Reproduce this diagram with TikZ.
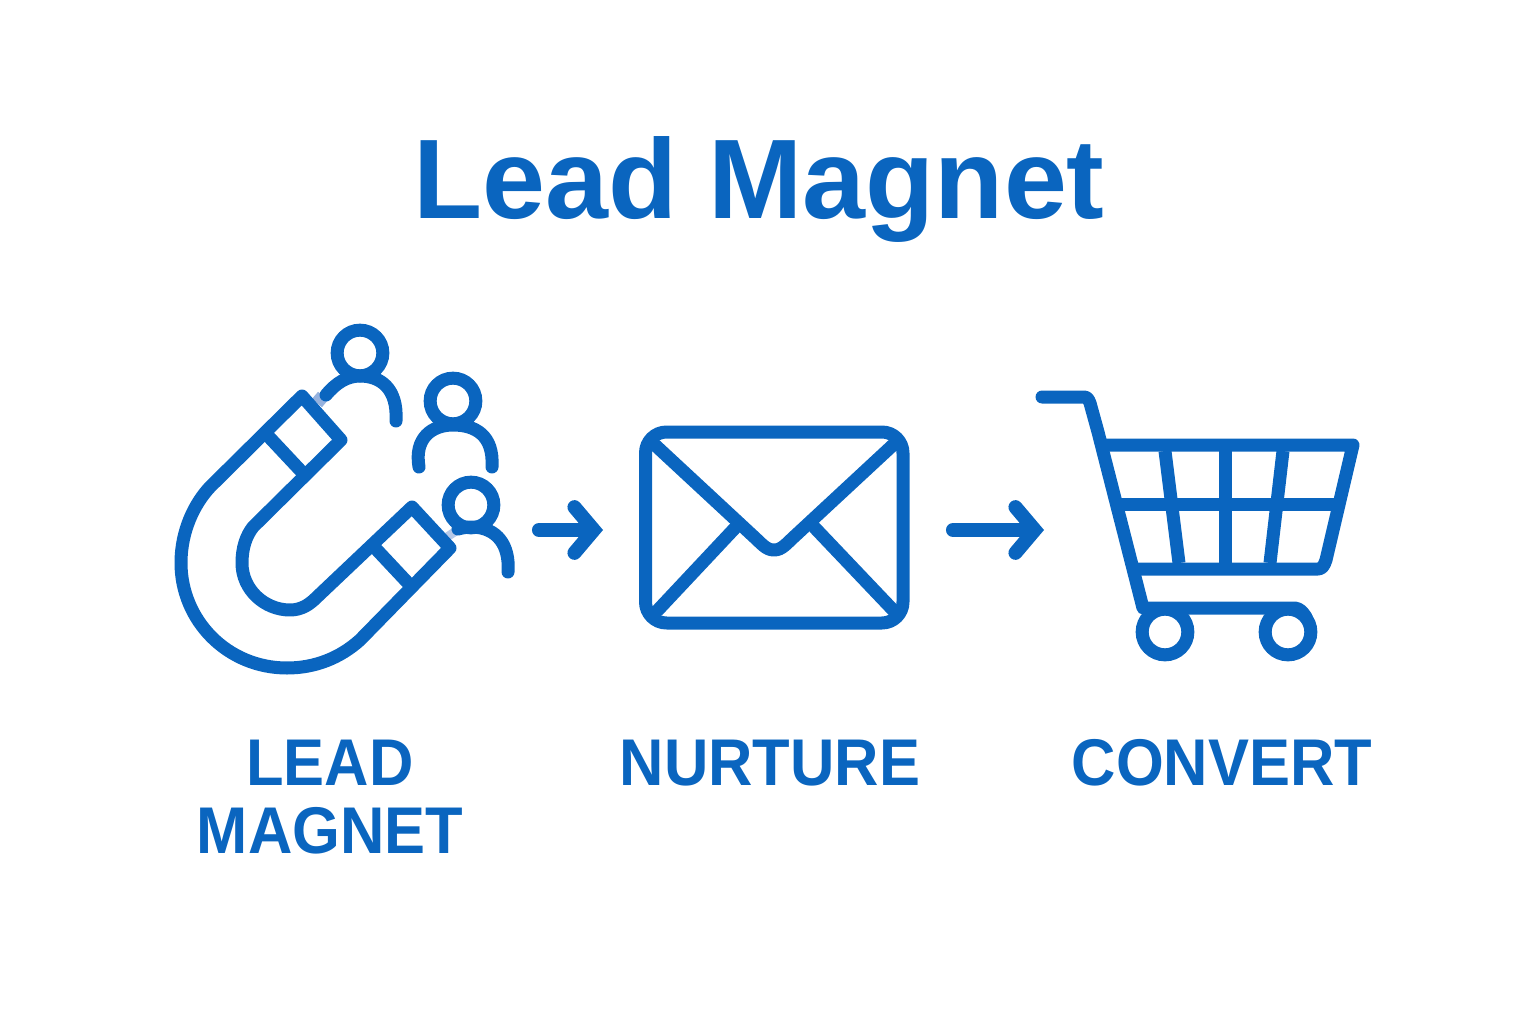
\documentclass[tikz,border=0pt]{standalone}
\usepackage{fontspec}
\setmainfont{Liberation Sans}
\newfontfamily\capsfont[FakeStretch=0.93]{Liberation Sans}
\usetikzlibrary{arrows.meta}
\definecolor{leadblue}{RGB}{10,101,191}
\definecolor{fadeblue}{RGB}{150,178,222}

\begin{document}
\begin{tikzpicture}[x=0.02cm,y=-0.02cm]

\tikzset{icon/.style = {draw=leadblue,line width=7.4pt,line join=round,line cap=round}}
\tikzset{edge/.style = {draw=leadblue,line width=8pt,line cap=round,-{Straight Barb[length=11pt,width=26pt,line cap=round]}}}
\tikzset{head/.style = {shape=circle,draw=leadblue,line width=7.4pt,minimum size=26pt,inner sep=0pt}}
\tikzset{wheel/.style = {shape=circle,draw=leadblue,line width=7.4pt,fill=white,minimum size=26pt,inner sep=0pt}}
\tikzset{label/.style = {anchor=base,text=leadblue,font=\capsfont\fontsize{37.6pt}{37.6pt}\selectfont\bfseries,inner sep=0pt}}

\useasboundingbox (0,0) rectangle (1536,1024);

\node[label,font=\fontsize{64.4pt}{64.4pt}\selectfont\bfseries] (title) at (759,218) {Lead Magnet};

% people
\draw[fadeblue,line width=7.4pt] (323,396) -- (317,403);
\draw[fadeblue!70,line width=5pt] (456,531) -- (447,537);
\foreach \pos/\name in {{(360,353)/p1}, {(453,401)/p2}, {(471,505)/p3}}
\node[head] (\name) at \pos {};
\draw[icon] (326,395) .. controls (336,383) and (347,376) .. (360,376) .. controls (380,376) and (398,388) .. (396,421);
\draw[icon] (419,467) .. controls (414,438) and (432,425) .. (453,425) .. controls (475,425) and (494,435) .. (492,467);
\draw[icon] (458,529) .. controls (462,528) and (466,527) .. (473,527) .. controls (497,528) and (510,545) .. (508,572);

% magnet
\draw[icon] (302,396) -- (341,440) -- (253,527) .. controls (246,536) and (242,548) .. (242,563)
  .. controls (242,590) and (265,610) .. (290,610) .. controls (302,610) and (310,604) .. (317,597)
  -- (412,507) -- (450,548) -- (360,640) .. controls (340,658) and (315,668) .. (287,668)
  .. controls (227,668) and (181,620) .. (181,563) .. controls (181,530) and (195,503) .. (210,487) -- cycle;
\draw[icon] (270,438) -- (300,470);
\draw[icon] (377,550) -- (407,582);

% envelope
\draw[icon,rounded corners=12pt,line cap=butt] (645.5,432) rectangle (903,623);
\draw[icon] (655,445) -- (752,535) .. controls (762,544) and (766,550) .. (774,550) .. controls (782,550) and (786,544) .. (796,535) -- (893,445);
\draw[icon] (658,610) -- (735,528);
\draw[icon] (815,528) -- (893,610);

% cart
\draw[icon] (1042,397) -- (1083,397) .. controls (1087,397) and (1088,398) .. (1090,403) -- (1098,432) -- (1143,608) -- (1295,608) .. controls (1300,609) and (1302,611) .. (1306,617);
\draw[icon] (1103,445) -- (1353,445) -- (1326,560) .. controls (1324,566) and (1322,569) .. (1318,569) -- (1138,569);
\draw[icon,line cap=butt] (1118,504) -- (1337,504);
\foreach \from/\to in {{(1165,451)/(1179,563)}, {(1225,451)/(1225,563)}, {(1283,451)/(1270,563)}}
\draw[icon,line cap=butt] \from -- \to;
\foreach \pos/\name in {{(1165,632)/w1}, {(1288,632)/w2}}
\node[wheel] (\name) at \pos {};

% arrows
\coordinate (a1) at (539,530);
\coordinate (b1) at (603,530);
\coordinate (a2) at (953,530);
\coordinate (b2) at (1044,530);
\draw[edge] (a1) -- (b1);
\draw[edge] (a2) -- (b2);

\node[label] (lead) at (330,785) {LEAD};
\node[label] (magnet) at (330,853) {MAGNET};
\node[label] (nurture) at (770,785) {NURTURE};
\node[label] (convert) at (1222,785) {CONVERT};

\end{tikzpicture}
\end{document}
